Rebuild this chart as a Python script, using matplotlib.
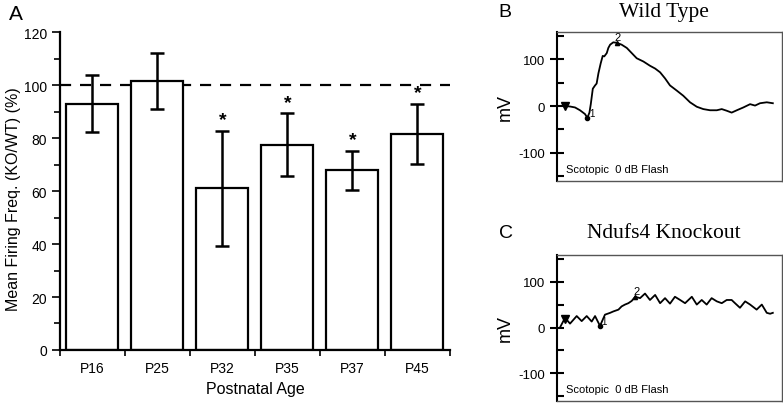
import numpy as np
import matplotlib
matplotlib.use("Agg")
from matplotlib import pyplot as plt
from matplotlib.ticker import MultipleLocator

plt.rcParams["font.family"] = ["Liberation Sans", "DejaVu Sans"]
plt.rcParams["axes.unicode_minus"] = False

# Panel A data
ages = ["P16", "P25", "P32", "P35", "P37", "P45"]
ratio = [93, 101.5, 61, 77.5, 67.8, 81.5]
err = [10.8, 10.5, 21.8, 11.8, 7.5, 11.3]
signif = [False, False, True, True, True, True]

# Panel B trace (wild type), time in a.u., mV
wt_t = [0, 3.56, 5.78, 8, 10.2, 12.4, 13.5, 14.4, 15, 15.9, 16.9, 17.6, 18.4, 19.4,
        20.3, 21, 22.1, 22.8, 23.6, 25, 26.5, 28.7, 31, 33.2, 35.4, 38.4, 41.3, 43.6,
        45.8, 48, 50.2, 53.2, 56.1, 59.1, 62.1, 65, 68, 71, 73.2, 75.4, 77.6, 79.9,
        82.8, 85.8, 88, 90.2, 93.2, 95.9]
wt_mv = [0, 0, -1, -3, -9, -17, -25, -14, 4, 37, 44, 48, 70, 91,
         107, 106, 113, 124, 131, 136, 135, 131, 124, 113, 102, 95, 86, 80,
         72, 59, 44, 33, 22, 8, -1.5, -6.5, -9, -9, -6.5, -10, -14, -9,
         -3, 4, 1, 6, 8, 6]

# Panel C trace (Ndufs4 knockout)
ko_t = [1.3, 3.56, 5.78, 8.74, 10.96, 13.19, 15.4, 16.9, 19.1, 21.3, 23.6, 25.0,
        27.3, 28.7, 30.2, 31.7, 33.2, 34.7, 36.9, 39.1, 41.3, 43.6, 45.8, 48, 50.2,
        52.4, 54.7, 56.9, 59.9, 62.1, 64.3, 66.5, 68.7, 71, 73.2, 75.4, 77.6, 79.1,
        81.3, 83.6, 85.8, 88.7, 91, 93.2, 94.7, 95.9]
ko_mv = [0, 21, 8.5, 25, 14, 25, 13, 25, 3.5, 28, 32, 35,
         39, 46, 50, 53, 58, 67, 64, 74, 60, 71, 53, 64, 52,
         67, 60, 53, 67, 50, 60, 50, 64, 57, 53, 60, 60, 53,
         43, 57, 50, 39, 50, 32, 30, 32]

fig = plt.figure(figsize=(7.83, 4.06), dpi=100)

# ---- Panel A ----
ax = fig.add_axes([0.0766, 0.1355, 0.498, 0.783])
x = np.arange(len(ages))
ax.bar(x, ratio, width=0.8, color="white", edgecolor="black", linewidth=1.6, zorder=2)
ax.errorbar(x, ratio, yerr=err, fmt="none", ecolor="black", elinewidth=1.8,
            capsize=5, capthick=1.8, zorder=3)
for xi, r, e, s in zip(x, ratio, err, signif):
    if s:
        ax.text(xi, r + e + 1.0, "*", ha="center", va="bottom", fontsize=14,
                fontweight="bold")
ax.axhline(100, color="black", linestyle=(0, (5, 4)), linewidth=1.6, zorder=1)
ax.set_xlim(-0.5, 5.5)
ax.set_ylim(0, 120)
ax.set_xticks(x)
ax.set_xticklabels(ages, fontsize=10)
ax.set_xticks(np.arange(-0.5, 6, 1), minor=True)
ax.tick_params(axis="x", which="major", length=0, pad=8)
ax.tick_params(axis="x", which="minor", length=4, width=1.2)
ax.yaxis.set_major_locator(MultipleLocator(20))
ax.yaxis.set_minor_locator(MultipleLocator(10))
ax.tick_params(axis="y", which="major", length=6, width=1.2, labelsize=10)
ax.tick_params(axis="y", which="minor", length=4, width=1.2)
for side in ["top", "right"]:
    ax.spines[side].set_visible(False)
for side in ["left", "bottom"]:
    ax.spines[side].set_linewidth(1.6)
ax.set_xlabel("Postnatal Age", fontsize=11.5)
ax.set_ylabel("Mean Firing Freq. (KO/WT) (%)", fontsize=11.5)
ax.yaxis.set_label_coords(-0.1, 0.478)
fig.text(0.011, 0.965, "A", fontsize=15, va="center")


def trace_axes(rect, t, mv, title, letter, letter_y):
    a = fig.add_axes(rect)
    a.plot(t, mv, color="black", linewidth=1.3)
    a.set_xlim(0, 100)
    a.set_ylim(-160, 158)
    a.set_xticks([])
    a.set_yticks([-100, 0, 100])
    a.set_yticks([-150, -50, 50, 150], minor=True)
    a.tick_params(axis="y", which="major", direction="inout", length=10, width=1.5,
                  labelsize=9.5)
    a.tick_params(axis="y", which="minor", direction="in", length=5, width=1.5)
    a.spines["left"].set_linewidth(1.5)
    for side in ["top", "right", "bottom"]:
        a.spines[side].set_color("#555555")
        a.spines[side].set_linewidth(1.0)
    a.set_ylabel("mV", fontsize=13)
    a.yaxis.set_label_coords(-0.19, 0.5)
    a.text(4, -145, "Scotopic  0 dB Flash", fontsize=8, va="bottom")
    fig.text(0.848, letter_y, title, family="Liberation Serif", fontsize=15.5,
             ha="center", va="center")
    fig.text(0.637, letter_y, letter, fontsize=14, va="center")
    return a


axb = trace_axes([0.7114, 0.5517, 0.2874, 0.367], wt_t, wt_mv,
                 "Wild Type", "B", 0.97)
axb.plot(3.56, 0, marker="v", color="black", markersize=6)
axb.plot(13.5, -25, marker="o", color="black", markersize=3)
axb.text(14.3, -22, "1", fontsize=7)
axb.plot(26.5, 135, marker="^", color="black", markersize=3)
axb.text(25.5, 140, "2", fontsize=8)

axc = trace_axes([0.7114, 0.0099, 0.2874, 0.3596], ko_t, ko_mv,
                 "Ndufs4 Knockout", "C", 0.426)
axc.plot(3.56, 19, marker="v", color="black", markersize=6)
axc.plot(19.1, 3.5, marker="o", color="black", markersize=3)
axc.text(19.6, 8, "1", fontsize=7)
axc.plot(34.7, 67, marker="^", color="black", markersize=3)
axc.text(33.8, 72, "2", fontsize=8)

fig.savefig("out.png", dpi=100)
